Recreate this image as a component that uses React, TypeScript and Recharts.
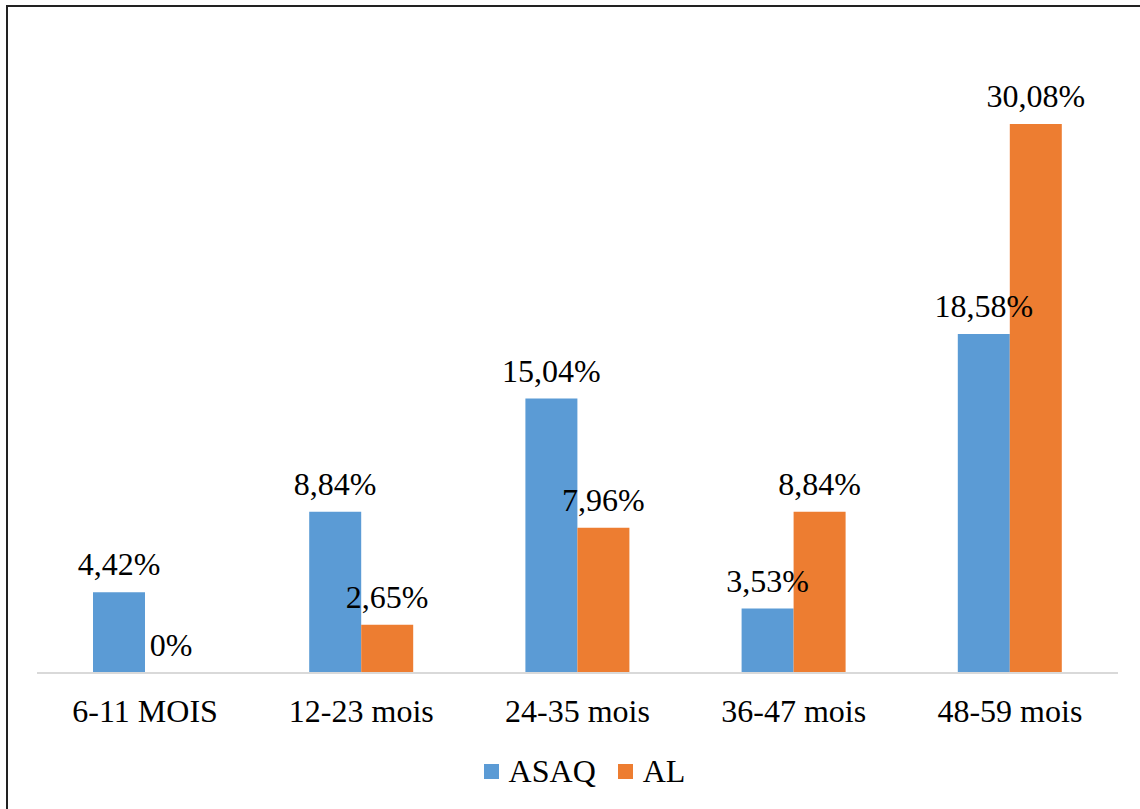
import { BarChart, Bar, XAxis, YAxis, Legend, LabelList } from 'recharts'

const categories = ['6-11 MOIS', '12-23 mois', '24-35 mois', '36-47 mois', '48-59 mois']
const asaq = [4.42, 8.84, 15.04, 3.53, 18.58]
const al = [0, 2.65, 7.96, 8.84, 30.08]

const series = [
  { key: 'ASAQ', color: '#5b9bd5' },
  { key: 'AL', color: '#ed7d31' },
]

const data = categories.map((name, i) => ({ name, ASAQ: asaq[i], AL: al[i] }))

const font = '"Liberation Serif", "Times New Roman", serif'

const fmt = (v: any) => (v === 0 ? '0%' : `${Number(v).toFixed(2).replace('.', ',')}%`)

const LegendBox = () => (
  <div style={{ display: 'flex', justifyContent: 'center', alignItems: 'center', height: 36, paddingLeft: 36 }}>
    {series.map((s) => (
      <div key={s.key} style={{ display: 'flex', alignItems: 'center', marginRight: 22 }}>
        <span style={{ width: 15, height: 15, background: s.color, display: 'inline-block', marginRight: 10 }} />
        <span style={{ color: '#000', fontSize: 32, fontFamily: font }}>{s.key}</span>
      </div>
    ))}
  </div>
)

export default function App() {
  return (
    <div style={{ position: 'fixed', left: 0, top: 0, width: 1140, height: 809, background: '#fff' }}>
      <div
        style={{
          position: 'absolute',
          left: 6,
          top: 5,
          width: 1140,
          height: 820,
          border: '2px solid #222',
          boxSizing: 'border-box',
        }}
      />
      <div style={{ position: 'absolute', left: 0, top: 0 }}>
        <BarChart
          width={1140}
          height={809}
          data={data}
          margin={{ top: 89, right: 22, left: 37, bottom: 20 }}
          barGap={0}
        >
          <XAxis
            dataKey="name"
            axisLine={{ stroke: '#d9d9d9', strokeWidth: 2 }}
            tickLine={false}
            tickMargin={20}
            height={80}
            tick={{ fill: '#000', fontSize: 32, fontFamily: font }}
          />
          <YAxis hide domain={[0, 32]} />
          <Legend verticalAlign="bottom" align="center" content={<LegendBox />} wrapperStyle={{ height: 36 }} />
          {series.map((s) => (
            <Bar key={s.key} dataKey={s.key} fill={s.color} barSize={52} minPointSize={0.01} isAnimationActive={false}>
              <LabelList
                dataKey={s.key}
                position="top"
                offset={17}
                formatter={fmt}
                style={{ fill: '#000', fontSize: 32, fontFamily: font }}
              />
            </Bar>
          ))}
        </BarChart>
      </div>
    </div>
  )
}
